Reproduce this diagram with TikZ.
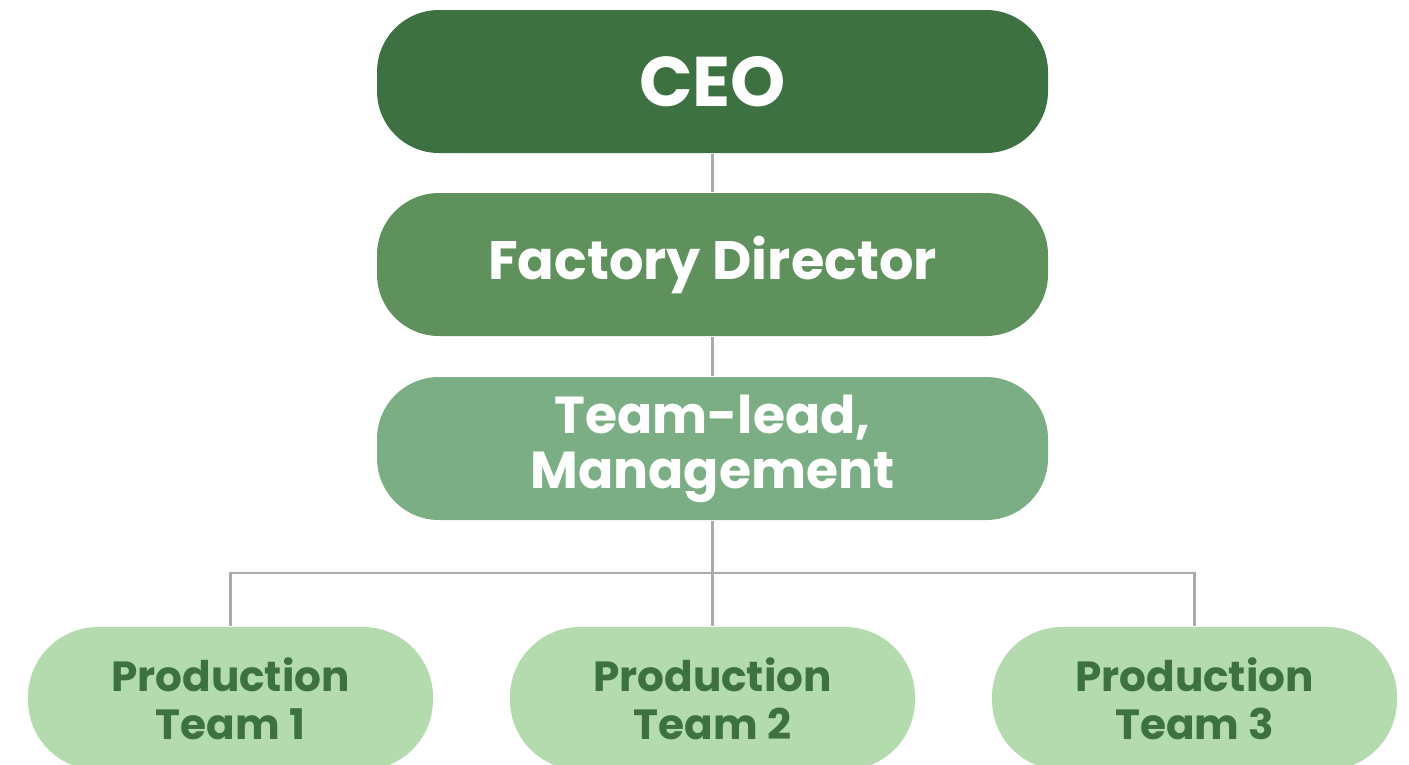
\documentclass[tikz,border=0pt]{standalone}
\usepackage{fontspec}
\setmainfont{Poppins}
\definecolor{ceogreen}{HTML}{3D7142}
\definecolor{dirgreen}{HTML}{5F915D}
\definecolor{leadgreen}{HTML}{7BAE84}
\definecolor{teamgreen}{HTML}{B3DBAE}
\definecolor{linkgray}{HTML}{AAAAAA}
\tikzset{
  rank/.style={rounded corners=0.62cm,minimum width=6.71cm,minimum height=1.43cm,
    text=white,font=\bfseries,align=center,inner sep=0pt},
  team/.style={rounded corners=0.7cm,minimum width=4.05cm,minimum height=1.43cm,
    fill=teamgreen,text=ceogreen,font=\fontsize{12}{13.7}\selectfont\bfseries,
    align=center,inner sep=0pt},
  link/.style={draw=linkgray,line width=0.6pt}
}

\begin{document}
\begin{tikzpicture}
   \useasboundingbox (0,0) rectangle (14.09,-7.64);
   \clip (0,0) rectangle (14.09,-7.64);
   \node (ceo) at (7.125,-0.815) [rank,fill=ceogreen,font=\fontsize{20}{22}\selectfont\bfseries] {CEO};
   \node (director) at (7.125,-2.645) [rank,fill=dirgreen,font=\fontsize{15.4}{18}\selectfont\bfseries] {\raisebox{-1pt}{Factory Director}};
   \node (lead) at (7.125,-4.485) [rank,fill=leadgreen,font=\fontsize{14.8}{15.6}\selectfont\bfseries] {Team-lead,\\Management};
   \node (team1) at (2.305,-6.985) [team] {Production\\Team 1};
   \node (team2) at (7.125,-6.985) [team] {Production\\Team 2};
   \node (team3) at (11.945,-6.985) [team] {Production\\Team 3};
   \draw[link] (ceo) -- (director);
   \draw[link] (director) -- (lead);
   \draw[link] (lead) -- (team2);
   \draw[link] (team1.north) -- ++(0,0.53) -| (team3.north);
\end{tikzpicture}
\end{document}
